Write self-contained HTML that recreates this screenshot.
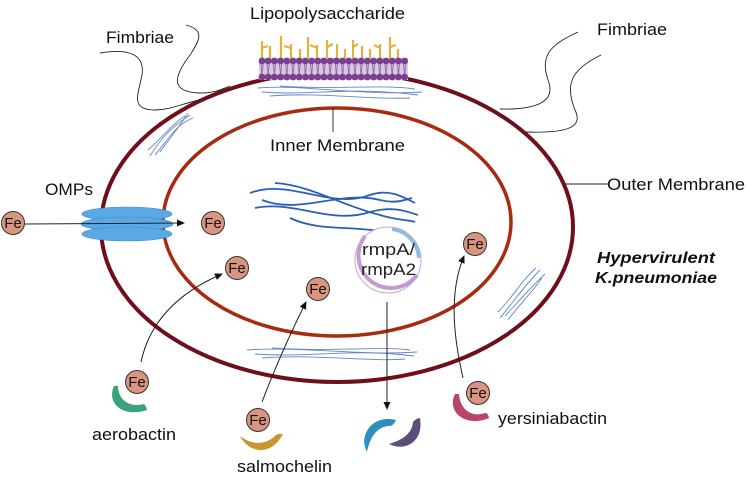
<!DOCTYPE html>
<html><head><meta charset="utf-8"><style>
html,body{margin:0;padding:0;background:#fff;}
svg{display:block;font-family:"Liberation Sans","DejaVu Sans",sans-serif;}
</style></head><body>
<svg width="750" height="480" viewBox="0 0 750 480" xmlns="http://www.w3.org/2000/svg">
<defs>
<marker id="ar" markerWidth="8" markerHeight="8" refX="7" refY="4" orient="auto" markerUnits="userSpaceOnUse">
<path d="M0,0.5 L8,4 L0,7.5 Z" fill="#111"/></marker>
<pattern id="beads" x="259" y="0" width="6.2" height="30" patternUnits="userSpaceOnUse">
<rect x="0" y="0" width="6.2" height="30" fill="#d9c8e3"/>
<line x1="1.5" y1="0" x2="4.5" y2="30" stroke="#8a5a9e" stroke-width="0.8"/>
<line x1="4.5" y1="0" x2="1.5" y2="30" stroke="#8a5a9e" stroke-width="0.8"/>
</pattern>
</defs>

<ellipse cx="337" cy="227" rx="236" ry="155" fill="none" stroke="#6e0f1c" stroke-width="4"/>
<ellipse cx="337" cy="222" rx="174" ry="114" fill="none" stroke="#a82a10" stroke-width="3.5"/>

<path d="M100,53 C130,48 145,55 142,75 C138,95 130,110 155,110 C170,110 180,104 200,100" fill="none" stroke="#222" stroke-width="0.9"/>
<path d="M186,25 C205,30 200,40 190,55 C175,75 168,92 200,93 C215,93 222,89 230,86" fill="none" stroke="#222" stroke-width="0.9"/>
<path d="M578,32 C550,45 540,55 548,80 C556,100 540,110 500,109" fill="none" stroke="#222" stroke-width="0.9"/>
<path d="M601,55 C570,70 565,85 575,110 C585,130 560,133 526,132" fill="none" stroke="#222" stroke-width="0.9"/>

<g stroke="#e3b23c" stroke-width="2.2" fill="#e8b84a">
<line x1="262" y1="41" x2="262" y2="58"/><line x1="270" y1="46" x2="270" y2="58"/><line x1="281" y1="36" x2="281" y2="58"/>
<line x1="291" y1="44" x2="291" y2="58"/><line x1="300" y1="49" x2="300" y2="58"/><line x1="308" y1="37" x2="308" y2="58"/>
<line x1="317" y1="45" x2="317" y2="58"/><line x1="327" y1="40" x2="327" y2="58"/><line x1="337" y1="44" x2="337" y2="58"/>
<line x1="345" y1="49" x2="345" y2="58"/><line x1="353" y1="40" x2="353" y2="58"/><line x1="362" y1="46" x2="362" y2="58"/>
<line x1="370" y1="49" x2="370" y2="58"/><line x1="380" y1="44" x2="380" y2="58"/><line x1="390" y1="37" x2="390" y2="58"/>
<line x1="398" y1="49" x2="398" y2="58"/>
<line x1="262" y1="48" x2="268" y2="46"/><line x1="291" y1="48" x2="284" y2="46"/><line x1="317" y1="48" x2="310" y2="45"/>
<line x1="327" y1="47" x2="333" y2="44"/><line x1="353" y1="47" x2="358" y2="44"/><line x1="380" y1="48" x2="374" y2="45"/>
<line x1="390" y1="47" x2="396" y2="45"/>
</g>
<rect x="259" y="58" width="149" height="22" fill="url(#beads)"/>
<g fill="#7a3f8f">
<circle cx="262" cy="61" r="3.4"/><circle cx="268.2" cy="61" r="3.4"/><circle cx="274.4" cy="61" r="3.4"/><circle cx="280.6" cy="61" r="3.4"/><circle cx="286.8" cy="61" r="3.4"/><circle cx="293" cy="61" r="3.4"/><circle cx="299.2" cy="61" r="3.4"/><circle cx="305.4" cy="61" r="3.4"/><circle cx="311.6" cy="61" r="3.4"/><circle cx="317.8" cy="61" r="3.4"/><circle cx="324" cy="61" r="3.4"/><circle cx="330.2" cy="61" r="3.4"/><circle cx="336.4" cy="61" r="3.4"/><circle cx="342.6" cy="61" r="3.4"/><circle cx="348.8" cy="61" r="3.4"/><circle cx="355" cy="61" r="3.4"/><circle cx="361.2" cy="61" r="3.4"/><circle cx="367.4" cy="61" r="3.4"/><circle cx="373.6" cy="61" r="3.4"/><circle cx="379.8" cy="61" r="3.4"/><circle cx="386" cy="61" r="3.4"/><circle cx="392.2" cy="61" r="3.4"/><circle cx="398.4" cy="61" r="3.4"/><circle cx="404.6" cy="61" r="3.4"/>
<circle cx="262" cy="77" r="3.4"/><circle cx="268.2" cy="77" r="3.4"/><circle cx="274.4" cy="77" r="3.4"/><circle cx="280.6" cy="77" r="3.4"/><circle cx="286.8" cy="77" r="3.4"/><circle cx="293" cy="77" r="3.4"/><circle cx="299.2" cy="77" r="3.4"/><circle cx="305.4" cy="77" r="3.4"/><circle cx="311.6" cy="77" r="3.4"/><circle cx="317.8" cy="77" r="3.4"/><circle cx="324" cy="77" r="3.4"/><circle cx="330.2" cy="77" r="3.4"/><circle cx="336.4" cy="77" r="3.4"/><circle cx="342.6" cy="77" r="3.4"/><circle cx="348.8" cy="77" r="3.4"/><circle cx="355" cy="77" r="3.4"/><circle cx="361.2" cy="77" r="3.4"/><circle cx="367.4" cy="77" r="3.4"/><circle cx="373.6" cy="77" r="3.4"/><circle cx="379.8" cy="77" r="3.4"/><circle cx="386" cy="77" r="3.4"/><circle cx="392.2" cy="77" r="3.4"/><circle cx="398.4" cy="77" r="3.4"/><circle cx="404.6" cy="77" r="3.4"/>
</g>
<g fill="none" stroke="#3a68b8" stroke-width="0.9" opacity="0.8">
<path d="M258,88 C300,84 360,96 422,92"/><path d="M262,92 C310,96 350,86 418,95"/><path d="M270,96 C320,92 370,100 410,98"/><path d="M280,86 C330,90 380,84 415,89"/>
<path d="M247,350 C300,346 360,356 417,352"/><path d="M255,354 C310,358 350,348 414,356"/><path d="M262,358 C320,354 370,362 405,359"/><path d="M272,348 C330,352 380,346 410,350"/>
<path d="M150,156 C160,140 170,128 190,115"/><path d="M155,155 C168,140 175,125 193,118"/><path d="M160,152 C170,138 180,126 188,113"/><path d="M148,150 C162,138 172,124 185,116"/>
<path d="M500,318 C515,300 525,285 540,270"/><path d="M505,316 C518,302 530,288 545,274"/><path d="M498,312 C512,298 522,280 536,268"/><path d="M508,320 C520,304 532,292 542,278"/>
</g>
<g fill="none" stroke="#2b5fb5" stroke-width="1.8">
<path d="M250,193 C290,178 330,210 370,195 C390,188 405,198 415,203"/>
<path d="M255,208 C295,200 330,225 370,212 C395,205 410,213 418,215"/>
<path d="M275,183 C310,185 340,205 380,215 C395,220 410,220 415,222"/>
<path d="M262,200 C300,215 340,190 380,200 C395,204 405,200 412,198"/>
<path d="M290,218 C320,232 350,225 385,232"/>
</g>

<circle cx="388" cy="260" r="33" fill="#fff" stroke="#c9a5cf" stroke-width="1"/>
<path d="M365,236 A31,31 0 1 0 417,275" fill="none" stroke="#c49ad0" stroke-width="4"/>
<path d="M392,229 A31,31 0 0 1 419,258" fill="none" stroke="#8fbde3" stroke-width="4"/>
<text x="362" y="255" font-size="17" textLength="53" lengthAdjust="spacingAndGlyphs" fill="#222">rmpA/</text>
<text x="361" y="275" font-size="17" textLength="55" lengthAdjust="spacingAndGlyphs" fill="#222">rmpA2</text>

<g fill="#5aa9e6" stroke="#3d8bcf" stroke-width="0.6">
<ellipse cx="127" cy="214" rx="45" ry="7"/>
<ellipse cx="127" cy="224" rx="46" ry="7"/>
<ellipse cx="127" cy="234" rx="45" ry="7"/>
</g>

<g stroke="#222" stroke-width="1" fill="none" marker-end="url(#ar)">
<line x1="25" y1="224" x2="184" y2="223"/>
<path d="M141,362 C150,320 180,292 222,274"/>
<path d="M262,402 C278,360 292,330 306,302"/>
<path d="M463,378 C452,330 450,290 464,256"/>
<line x1="387" y1="302" x2="387" y2="409"/>
</g>
<line x1="333" y1="108" x2="333" y2="132" stroke="#222" stroke-width="0.9"/>
<line x1="565" y1="184" x2="608" y2="184" stroke="#222" stroke-width="0.9"/>

<path d="M114,386 C106,404 124,418 147,410 C146,406 145,404 143,404 C130,408 118,400 118,386 Z" fill="#3aa37a"/>
<path d="M240,436 C248,452 270,458 283,434 C278,434 276,434 274,437 C264,445 252,445 240,436 Z" fill="#c9952e"/>
<path d="M367,452 C358,436 372,414 396,420 C394,424 392,426 390,426 C378,426 370,436 367,452 Z" fill="#2f8ec0"/>
<path d="M389,444 C405,452 424,442 420,418 C417,418 415,420 413,422 C412,434 402,440 389,444 Z" fill="#5e4d78"/>
<path d="M455,394 C446,412 466,428 489,418 C488,414 487,413 485,413 C470,418 460,408 459,394 Z" fill="#b8456a"/>

<g font-size="15" text-anchor="middle" fill="#111">
<g><circle cx="13" cy="223" r="11.5" fill="#d99580" stroke="#333" stroke-width="1"/><text x="13" y="228">Fe</text></g>
<g><circle cx="213" cy="223" r="11.5" fill="#d99580" stroke="#333" stroke-width="1"/><text x="213" y="228">Fe</text></g>
<g><circle cx="237" cy="268" r="11.5" fill="#d99580" stroke="#333" stroke-width="1"/><text x="237" y="273">Fe</text></g>
<g><circle cx="318" cy="289" r="11.5" fill="#d99580" stroke="#333" stroke-width="1"/><text x="318" y="294">Fe</text></g>
<g><circle cx="475" cy="244" r="11.5" fill="#d99580" stroke="#333" stroke-width="1"/><text x="475" y="249">Fe</text></g>
<g><circle cx="137" cy="382" r="11.5" fill="#d99580" stroke="#333" stroke-width="1"/><text x="137" y="387">Fe</text></g>
<g><circle cx="258" cy="420" r="11.5" fill="#d99580" stroke="#333" stroke-width="1"/><text x="258" y="425">Fe</text></g>
<g><circle cx="478" cy="393" r="11.5" fill="#d99580" stroke="#333" stroke-width="1"/><text x="478" y="398">Fe</text></g>
</g>

<g font-size="17" fill="#111" lengthAdjust="spacingAndGlyphs">
<text x="250" y="19" textLength="155" lengthAdjust="spacingAndGlyphs">Lipopolysaccharide</text>
<text x="270" y="151" textLength="135" lengthAdjust="spacingAndGlyphs">Inner Membrane</text>
<text x="106" y="43" textLength="68" lengthAdjust="spacingAndGlyphs">Fimbriae</text>
<text x="597" y="35" textLength="70" lengthAdjust="spacingAndGlyphs">Fimbriae</text>
<text x="607" y="190" textLength="138" lengthAdjust="spacingAndGlyphs">Outer Membrane</text>
<text x="45" y="195" textLength="48" lengthAdjust="spacingAndGlyphs">OMPs</text>
<text x="92" y="440" textLength="84" lengthAdjust="spacingAndGlyphs">aerobactin</text>
<text x="237" y="472" textLength="95" lengthAdjust="spacingAndGlyphs">salmochelin</text>
<text x="498" y="424" textLength="109" lengthAdjust="spacingAndGlyphs">yersiniabactin</text>
</g>
<g font-size="16" font-weight="bold" font-style="italic" fill="#111">
<text x="597" y="263" textLength="118" lengthAdjust="spacingAndGlyphs">Hypervirulent</text>
<text x="595" y="283" textLength="122" lengthAdjust="spacingAndGlyphs">K.pneumoniae</text>
</g>
</svg>
</body></html>
